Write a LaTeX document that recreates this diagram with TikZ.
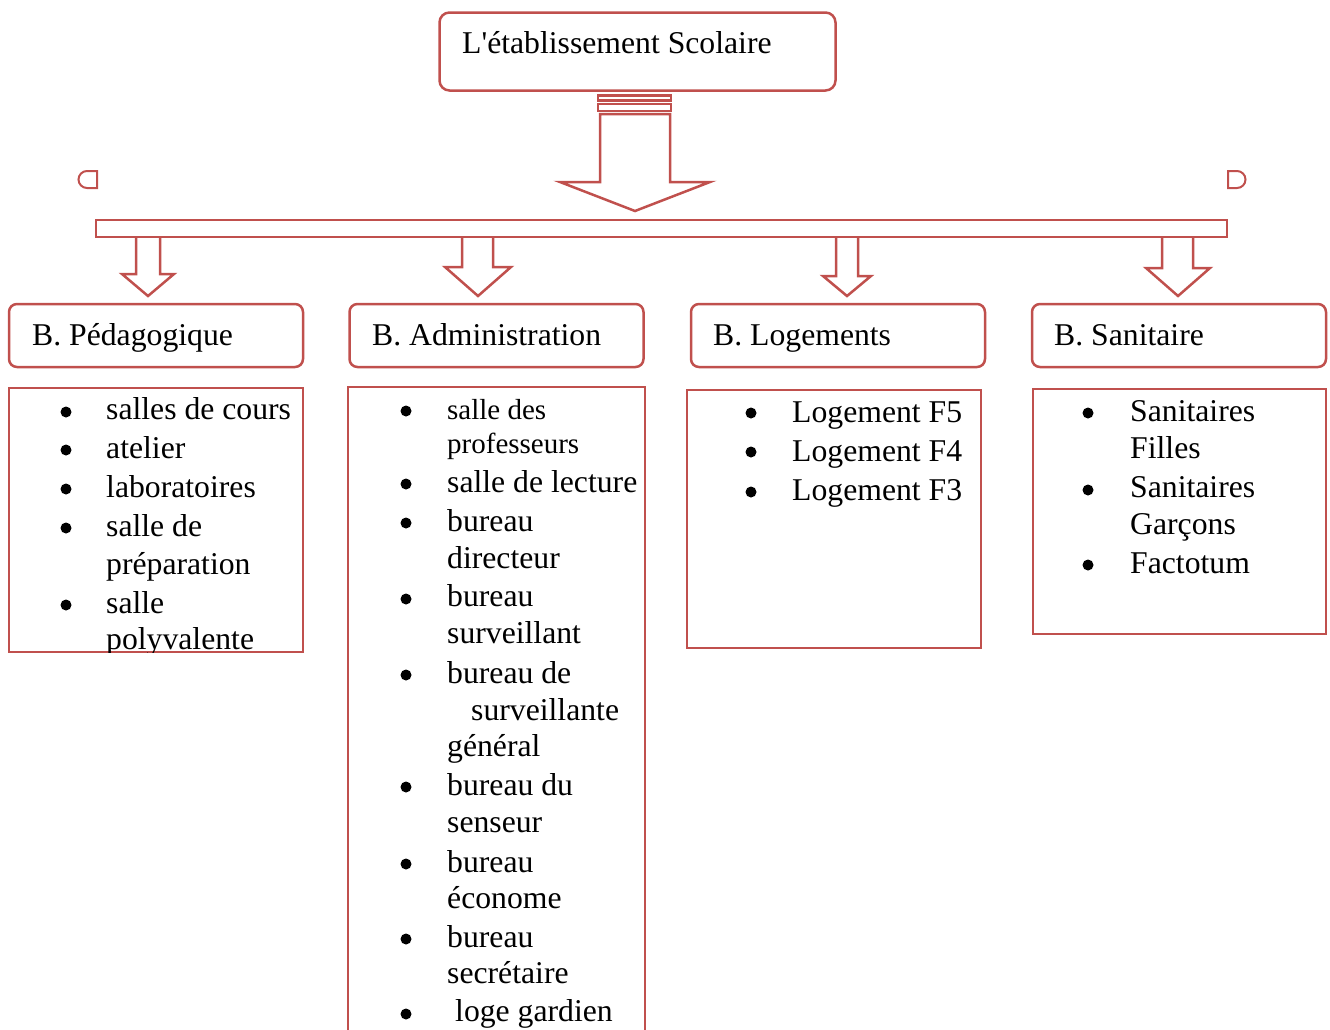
\documentclass[tikz,border=0pt]{standalone}
\usepackage{fontspec}
\setmainfont{Liberation Serif}[Ligatures=TeXOff]
\definecolor{acc}{HTML}{C0504D}
\begin{document}
\begin{tikzpicture}[x=1pt,y=-1pt,
  box/.style={draw=acc, line width=2.5pt, inner sep=0pt},
  rbox/.style={box, rounded corners=8pt},
  txt/.style={inner sep=0pt, anchor=base west, font=\fontsize{31.7}{38}\selectfont},
  smalltxt/.style={inner sep=0pt, anchor=base west, font=\fontsize{29}{34}\selectfont},
  bul/.style={fill=black},
  arr/.style={draw=acc, line width=2.5pt, line join=miter}]

\useasboundingbox (0,0) rectangle (1330,1029);

% top box
\node[rbox, rounded corners=10pt, minimum width=396pt, minimum height=78pt] (top) at (637.5,51.5) {};
\node[txt] (toptxt) at (462,53) {L'établissement Scolaire};

% main striped arrow
\draw[arr] (598,95.5) rectangle (671,100.5);
\draw[arr] (598,104) rectangle (671,111);
\draw[arr] (600,114) -- (670,114) -- (670,182) -- (710,182) -- (635,211) -- (560,182) -- (600,182) -- cycle;

% small D shapes
\draw[arr, line width=2pt] (97,171) -- (87,171) arc (270:90:8.5) -- (97,188) -- cycle;
\draw[arr, line width=2pt] (1228,171) -- (1237,171) arc (-90:90:8.5) -- (1228,188) -- cycle;

% bar
\node[box, line width=2.2pt, minimum width=1131pt, minimum height=17pt] (bar) at (661.5,228.5) {};

% small arrows
\draw[arr] (136,237) -- (136,274) -- (122,274) -- (148,296) -- (174,274) -- (160,274) -- (160,237);
\draw[arr] (462,237) -- (462,267) -- (445,267) -- (478,296) -- (511,267) -- (493,267) -- (493,237);
\draw[arr] (836,237) -- (836,276) -- (823,276) -- (847,296) -- (871,276) -- (858,276) -- (858,237);
\draw[arr] (1162,237) -- (1162,268) -- (1146,268) -- (1178,296) -- (1210,268) -- (1193,268) -- (1193,237);

% heading boxes
\node[rbox, minimum width=294pt, minimum height=63pt] (hped) at (156,335.5) {};
\node[rbox, minimum width=294pt, minimum height=63pt] (hadm) at (496.5,335.5) {};
\node[rbox, minimum width=294pt, minimum height=63pt] (hlog) at (838,335.5) {};
\node[rbox, minimum width=294pt, minimum height=63pt] (hsan) at (1179,335.5) {};
\node[txt] (tped) at (32,345) {B. Pédagogique};
\node[txt] (tadm) at (372,345) {B. Administration};
\node[txt] (tlog) at (713,345) {B. Logements};
\node[txt] (tsan) at (1054,345) {B. Sanitaire};

% list boxes
\node[box, minimum width=294pt, minimum height=264pt] (lped) at (156,520) {};
\draw[box] (348,1040) -- (348,387) -- (645,387) -- (645,1040);
\coordinate (ladm) at (496.5,387);
\node[box, minimum width=294pt, minimum height=258pt] (llog) at (834,519) {};
\node[box, minimum width=293pt, minimum height=245pt] (lsan) at (1179.5,511.5) {};

% Pedagogique list
\begin{scope}
\clip (8,387) rectangle (304,652);
\foreach \t/\y [count=\i] in {salles de cours/419, atelier/458, laboratoires/497, salle de/536, préparation/574, salle/613, polyvalente/649}
  \node[txt] (ped\i) at (106,\y) {\t};
\end{scope}
\foreach \y in {412,450,489,528,605}
  \fill[bul] (66,\y) circle (5.5);

% Administration list
\node[smalltxt] (adm1) at (447,419) {salle des};
\node[smalltxt] (adm2) at (447,453) {professeurs};
\foreach \t/\y [count=\i from 3] in {salle de lecture/492, bureau/531, directeur/568, bureau/606, surveillant/643, bureau de/683, général/756, bureau du/795, senseur/832, bureau/872, économe/908, bureau/947, secrétaire/983}
  \node[txt] (adm\i) at (447,\y) {\t};
\node[txt] (adm16) at (471,720) {surveillante};
\node[txt] (adm17) at (455,1021) {loge gardien};
\foreach \y in {411,484,523,599,675,787,864,939,1014}
  \fill[bul] (406,\y) circle (5.5);

% Logements list
\foreach \t/\y [count=\i] in {Logement F5/422, Logement F4/461, Logement F3/500}
  \node[txt] (log\i) at (792,\y) {\t};
\foreach \y in {413,452,492}
  \fill[bul] (751,\y) circle (5.5);

% Sanitaire list
\foreach \t/\y [count=\i] in {Sanitaires/421, Filles/458, Sanitaires/497, Garçons/534, Factotum/573}
  \node[txt] (san\i) at (1130,\y) {\t};
\foreach \y in {413,490,565}
  \fill[bul] (1088,\y) circle (5.5);
\end{tikzpicture}
\end{document}
